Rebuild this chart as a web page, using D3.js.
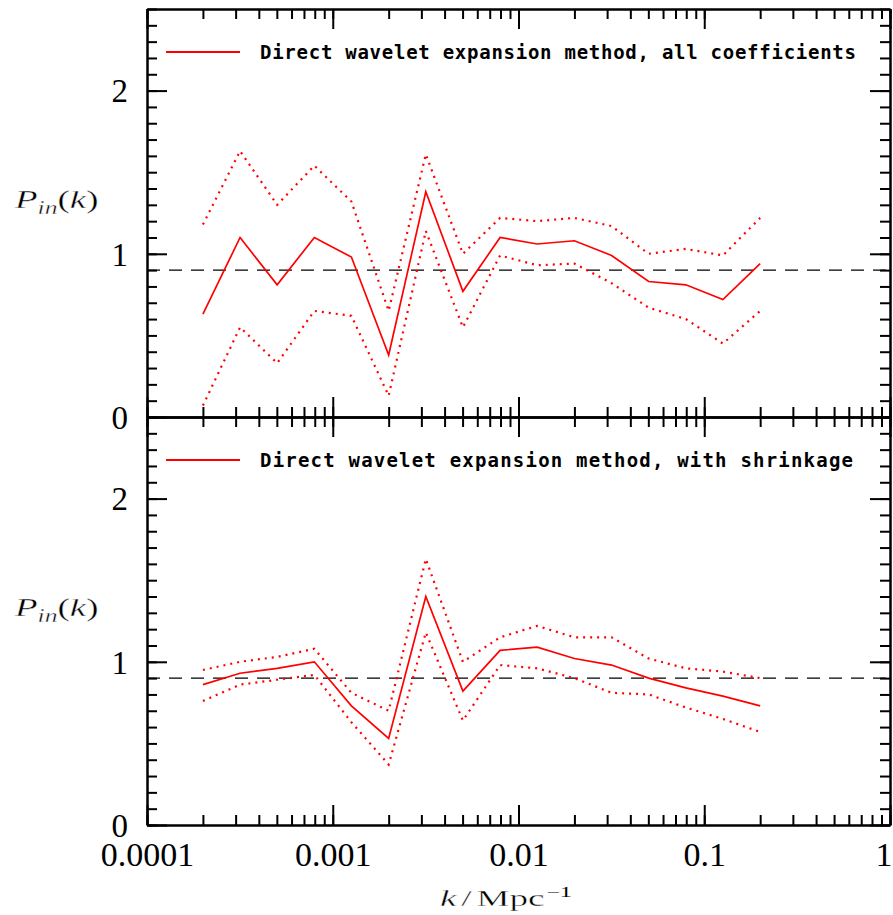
<!DOCTYPE html>
<html>
<head>
<meta charset="utf-8">
<script src="https://cdn.jsdelivr.net/npm/d3@7"></script>
<style>
  body { margin: 0; background: #fff; }
  svg { display: block; }
</style>
</head>
<body>
<svg id="chart" width="893" height="915"></svg>
<script>
// Wavenumbers of the band-power estimates (Mpc^-1)
const kValues = [0.0002, 0.000317, 0.000502, 0.000796, 0.00126, 0.002, 0.00317, 0.00502,
                 0.00796, 0.0126, 0.02, 0.0317, 0.0502, 0.0796, 0.126, 0.2];

// Direct wavelet expansion, all coefficients: estimate and 1-sigma band
const allMid = [0.63, 1.10, 0.81, 1.10, 0.98, 0.38, 1.38, 0.77, 1.10, 1.06, 1.08, 0.99, 0.83, 0.81, 0.72, 0.94];
const allHi  = [1.18, 1.63, 1.30, 1.54, 1.32, 0.65, 1.61, 1.00, 1.22, 1.20, 1.22, 1.17, 1.00, 1.03, 0.99, 1.22];
const allLo  = [0.07, 0.55, 0.33, 0.65, 0.62, 0.13, 1.14, 0.55, 0.99, 0.93, 0.94, 0.82, 0.67, 0.60, 0.45, 0.65];

// Direct wavelet expansion with shrinkage: estimate and 1-sigma band
const shrinkMid = [0.86, 0.93, 0.96, 1.00, 0.73, 0.53, 1.40, 0.82, 1.07, 1.09, 1.02, 0.98, 0.90, 0.84, 0.79, 0.73];
const shrinkHi  = [0.95, 1.00, 1.03, 1.08, 0.81, 0.70, 1.63, 1.00, 1.15, 1.22, 1.15, 1.15, 1.02, 0.96, 0.94, 0.90];
const shrinkLo  = [0.76, 0.86, 0.89, 0.92, 0.63, 0.37, 1.18, 0.64, 0.98, 0.96, 0.90, 0.81, 0.80, 0.72, 0.65, 0.57];

// Input spectrum level
const referenceLevel = 0.9;

// Axis ticks
const xTickValues = [0.0001, 0.001, 0.01, 0.1, 1];
const xTickLabels = ["0.0001", "0.001", "0.01", "0.1", "1"];
const yTickValues = [0, 1, 2];
const yTickLabels = ["0", "1", "2"];
const legendLabels = [
  "Direct wavelet expansion method, all coefficients",
  "Direct wavelet expansion method, with shrinkage"
];

const svg = d3.select("#chart");
const left = 147, right = 890;
const red = "#ff0000";
const serif = "'Liberation Serif', 'Times New Roman', serif";

const x = d3.scaleLog().domain([1e-4, 1]).range([left, right]);
const yMinor = d3.range(0, 25.5, 1).map(v => v / 10);

const panels = [
  { top: 9,   bottom: 417, mid: allMid,    hi: allHi,    lo: allLo,    label: legendLabels[0], legendWidth: 596 },
  { top: 417, bottom: 825, mid: shrinkMid, hi: shrinkHi, lo: shrinkLo, label: legendLabels[1], legendWidth: 593 }
];

function styleAxis(g, width) {
  g.selectAll("path.domain").attr("stroke", "#000").attr("stroke-width", width);
  g.selectAll(".tick line").attr("stroke", "#000").attr("stroke-width", width);
}

// Stretch a text element horizontally so it spans a given width
function fitWidth(g, x0, baseline, width) {
  const w = g.node().getBBox().width;
  g.attr("transform", `translate(${x0},${baseline}) scale(${width / w},1)`);
}

// Light serif look for the axis titles
function titleStyle(t) {
  t.attr("font-family", serif).attr("fill", "#000")
   .attr("stroke", "#fff").attr("stroke-width", 0.35);
}

panels.forEach((p, i) => {
  const y = d3.scaleLinear().domain([0, 2.5]).range([p.bottom, p.top]);
  const g = svg.append("g");

  // Frame with inward-pointing minor and major ticks on all four sides
  const sides = [
    { axis: d3.axisRight(y), tr: `translate(${left},0)`,  minor: yMinor,   major: yTickValues },
    { axis: d3.axisLeft(y),  tr: `translate(${right},0)`, minor: yMinor,   major: yTickValues },
    { axis: d3.axisBottom(x), tr: `translate(0,${p.top})`,    minor: x.ticks(), major: xTickValues },
    { axis: d3.axisTop(x),    tr: `translate(0,${p.bottom})`, minor: x.ticks(), major: xTickValues }
  ];
  sides.forEach(s => {
    g.append("g").attr("transform", s.tr)
      .call(s.axis.tickValues(s.minor).tickSize(10).tickSizeOuter(0).tickFormat(""))
      .call(a => styleAxis(a, 2));
    g.append("g").attr("transform", s.tr)
      .call(s.axis.tickValues(s.major).tickSize(20).tickSizeOuter(0).tickFormat(""))
      .call(a => styleAxis(a, 2));
  });

  // Y tick labels
  const yl = g.append("g").attr("transform", `translate(${left},0)`)
    .call(d3.axisLeft(y).tickValues(yTickValues).tickSize(0).tickPadding(19)
      .tickFormat((d, j) => yTickLabels[j]));
  yl.select("path.domain").remove();
  yl.selectAll("text").attr("font-family", serif).attr("font-size", 33).attr("fill", "#000")
    .attr("dy", "0.34em");

  // Y axis title P_in(k)
  const yt = g.append("text").attr("font-size", 26).call(titleStyle);
  yt.append("tspan").attr("font-style", "italic").text("P");
  yt.append("tspan").attr("font-style", "italic").attr("font-size", 18).attr("dy", 6).text("in");
  yt.append("tspan").attr("dy", -6).text("(");
  yt.append("tspan").attr("font-style", "italic").text("k");
  yt.append("tspan").text(")");
  fitWidth(yt, 15, p.top + 199, 85);

  // Reference level
  g.append("line")
    .attr("x1", x(1e-4)).attr("x2", x(1))
    .attr("y1", y(referenceLevel)).attr("y2", y(referenceLevel))
    .attr("stroke", "#000").attr("stroke-width", 1.4)
    .attr("stroke-dasharray", "13,9").attr("stroke-dashoffset", -22);

  const line = d3.line().x(d => x(d[0])).y(d => y(d[1]));
  const pts = arr => kValues.map((k, j) => [k, arr[j]]);

  [p.hi, p.lo].forEach(arr => {
    g.append("path").attr("d", line(pts(arr)))
      .attr("fill", "none").attr("stroke", red).attr("stroke-width", 2.2)
      .attr("stroke-dasharray", "2,5");
  });
  g.append("path").attr("d", line(pts(p.mid)))
    .attr("fill", "none").attr("stroke", red).attr("stroke-width", 1.7)
    .attr("stroke-linejoin", "miter");

  // Legend
  g.append("line")
    .attr("x1", 166).attr("x2", 240)
    .attr("y1", p.top + 43).attr("y2", p.top + 43)
    .attr("stroke", red).attr("stroke-width", 1.8);
  g.append("text")
    .attr("x", 260).attr("y", p.top + 50)
    .attr("font-family", "'DejaVu Sans Mono', monospace")
    .attr("font-weight", "bold").attr("font-size", 19)
    .attr("textLength", p.legendWidth).attr("lengthAdjust", "spacing")
    .attr("fill", "#000")
    .text(p.label);
});

// X tick labels
const bottomPanel = panels[1];
const xl = svg.append("g").attr("transform", `translate(0,${bottomPanel.bottom})`)
  .call(d3.axisBottom(x).tickValues(xTickValues).tickSize(0).tickPadding(17)
    .tickFormat((d, j) => xTickLabels[j]));
xl.select("path.domain").remove();
xl.selectAll("text").attr("font-family", serif).attr("font-size", 34).attr("fill", "#000");
// keep the last label inside the frame edge
xl.selectAll("text").filter((d, j, n) => j === n.length - 1)
  .attr("text-anchor", "end").attr("dx", 2);

// X axis title k/Mpc^-1
const xt = svg.append("text").attr("font-size", 23).call(titleStyle);
xt.append("tspan").attr("font-style", "italic").text("k");
xt.append("tspan").attr("dx", 3).text("/");
xt.append("tspan").attr("dx", 3).text("Mpc");
xt.append("tspan").attr("font-size", 15).attr("dy", -9).attr("dx", 1)
  .attr("stroke", "none").text("\u22121");
fitWidth(xt, 440, 906, 132);
</script>
</body>
</html>
